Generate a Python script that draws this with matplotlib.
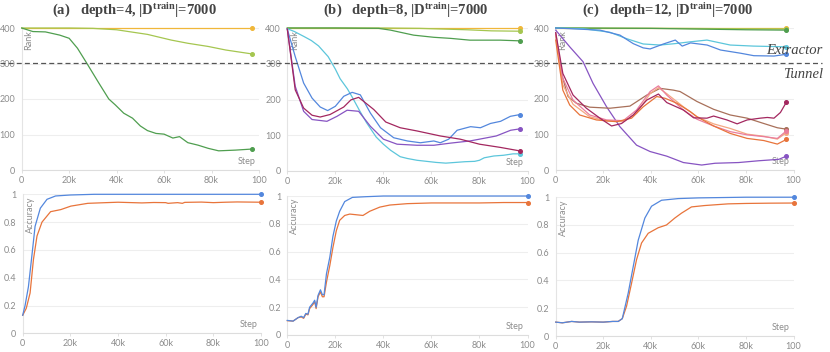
import matplotlib
matplotlib.use("Agg")
import matplotlib.pyplot as plt
from matplotlib.lines import Line2D

# ---------------------------------------------------------------
# Data (x in thousands of steps)
# ---------------------------------------------------------------

# (a) depth=4 -- rank
a_yellow_x = [0, 97]
a_yellow_y = [400, 400]
a_lgreen_x = [0, 10, 20, 30, 40, 45, 53, 63, 70, 78.6, 86, 97]
a_lgreen_y = [400, 400, 400, 399, 395, 390, 382, 366, 357, 348, 338, 327]
a_green_x = [0, 4.7, 10, 16, 20, 23.5, 27.5, 32.5, 36.7, 39.5, 43, 46.7, 50, 53, 56.6, 60,
             63.7, 66.5, 70, 74.3, 78.6, 83, 90, 97]
a_green_y = [400, 390, 389, 380, 371, 343, 300, 245, 200, 183, 160, 146, 124, 111, 103, 101,
             90, 94, 77, 70, 61, 54, 56, 59]

# (a) accuracy
a_acc_blue_x = [0, 1, 2.4, 3.8, 5.2, 7.4, 10.2, 13.8, 20, 30, 50, 70, 100]
a_acc_blue_y = [0.13, 0.2, 0.335, 0.55, 0.77, 0.90, 0.964, 0.988, 0.995, 1.0, 1.0, 1.0, 1.0]
a_acc_orange_x = [0, 1.5, 3.1, 4.5, 6, 8.1, 11.7, 16, 20.2, 27.3, 35, 40, 50, 55, 60, 61, 65,
                  67, 68, 75, 80, 85, 90, 95, 100]
a_acc_orange_y = [0.13, 0.18, 0.29, 0.53, 0.70, 0.80, 0.875, 0.89, 0.915, 0.935, 0.94, 0.943,
                  0.938, 0.941, 0.94, 0.935, 0.94, 0.935, 0.942, 0.944, 0.94, 0.943, 0.945,
                  0.944, 0.943]

# (b) depth=8 -- rank
b_yellow_x = [0, 97]
b_yellow_y = [400, 400]
b_lgreen_x = [0, 40, 55, 65, 75, 85, 97]
b_lgreen_y = [400, 400, 399, 397, 395, 392, 391]
b_green_x = [0, 20, 38, 43, 52.6, 61, 68, 76, 88.7, 97]
b_green_y = [400, 400, 399, 394, 380, 374, 371, 366, 366, 364]
b_cyan_x = [0, 3, 7, 10, 13, 17, 20, 22, 25, 27, 30, 33, 37, 40, 43, 47, 50, 54, 58, 62, 66,
            70, 74, 78, 80, 82, 86, 90, 94, 97]
b_cyan_y = [398, 390, 376, 365, 350, 320, 285, 258, 230, 207, 170, 135, 95, 75, 58, 40, 35,
            30, 27, 24, 22, 24, 26, 27, 30, 37, 42, 44, 48, 48]
b_blue_x = [0, 3.3, 6.8, 10.3, 13.7, 16.8, 20, 23.5, 27, 30.4, 34.6, 38.8, 44.3, 50, 55.4, 61,
            63.7, 67.2, 70.7, 76.3, 80.4, 84.6, 88.8, 92.9, 97]
b_blue_y = [397, 320, 246, 204, 179, 169, 181, 209, 220, 213, 162, 121, 93, 84, 79, 84, 79, 89,
            114, 124, 121, 133, 139, 153, 158]
b_purple_x = [0, 3.3, 6.8, 10.3, 16.5, 20.7, 24.9, 29.7, 34.6, 40, 45.7, 54, 61, 68, 76, 80,
              87, 93, 97]
b_purple_y = [397, 237, 167, 144, 139, 153, 170, 167, 125, 89, 75, 72, 72, 78, 84, 89, 98, 114,
              118]
b_crimson_x = [0, 3.3, 6.8, 10.3, 13.7, 17.8, 23.5, 26.5, 29.7, 36, 41, 47, 54, 63.7, 72, 80,
               88.7, 97]
b_crimson_y = [397, 227, 176, 156, 151, 158, 179, 199, 206, 172, 137, 121, 112, 98, 89, 75, 66,
               56]

# (b) accuracy
b_acc_orange_x = [0, 2.4, 4.5, 5.8, 6.8, 7.7, 8.6, 9.3, 10.7, 11.4, 12, 12.8, 13.8, 14.6, 15.3,
                  16.3, 17.7, 19, 20.4, 21.8, 23.9, 26, 31.5, 34.3, 38.5, 42.7, 50, 60, 70, 80,
                  90, 100]
b_acc_orange_y = [0.103, 0.10, 0.125, 0.13, 0.12, 0.15, 0.145, 0.19, 0.22, 0.24, 0.19, 0.275,
                  0.31, 0.275, 0.275, 0.38, 0.50, 0.63, 0.75, 0.825, 0.86, 0.87, 0.86, 0.89,
                  0.92, 0.935, 0.945, 0.95, 0.95, 0.95, 0.953, 0.953]
b_acc_blue_x = [0, 2.4, 4.5, 5.8, 6.8, 7.7, 8.6, 9.3, 10.7, 11.4, 12, 12.8, 13.8, 14.6, 15.3,
                16.3, 17.7, 19, 20.4, 21.8, 23.9, 27.1, 32.7, 40, 60, 80, 100]
b_acc_blue_y = [0.105, 0.10, 0.125, 0.135, 0.125, 0.155, 0.15, 0.2, 0.23, 0.25, 0.2, 0.285,
                0.325, 0.29, 0.29, 0.44, 0.56, 0.71, 0.82, 0.89, 0.96, 0.99, 0.995, 1.0, 1.0,
                1.0, 1.0]

# (c) depth=12 -- rank
c_yellow_x = [0, 97]
c_yellow_y = [400, 400]
c_lgreen_x = [0, 50, 97]
c_lgreen_y = [400, 399, 397]
c_green_x = [0, 40, 60, 80, 97]
c_green_y = [400, 399, 397, 395, 394]
c_cyan_x = [0, 11.5, 22.8, 29.8, 36.8, 43.9, 50.2, 56.5, 63.6, 73.4, 83.3, 97]
c_cyan_y = [400, 398, 388, 370, 355, 352, 356, 361, 366, 352, 349, 347]
c_blue_x = [0, 18.6, 27, 32.6, 36.8, 39.7, 45.3, 50.3, 53.2, 56.7, 63.7, 69.3, 77.7, 83.3,
            91.8, 97]
c_blue_y = [400, 394, 380, 356, 344, 341, 355, 366, 349, 358, 352, 338, 329, 322, 321, 326]
c_purple_x = [0, 5.9, 11.5, 15.7, 21.4, 27, 34, 39.7, 46.7, 53.7, 61.4, 67, 76.9, 85.3, 93.8, 97]
c_purple_y = [394, 347, 305, 244, 178, 122, 70, 52, 39, 21, 14, 19, 21, 26, 30, 39]
c_crimson_x = [0, 3, 7.3, 12.9, 18.6, 23.5, 27.7, 32.6, 38.3, 43.2, 46.7, 53.7, 58, 63.6, 66.4,
               72, 76.3, 80.5, 86, 89, 91.8, 94.5, 97]
c_crimson_y = [387, 272, 211, 174, 146, 124, 131, 155, 197, 214, 190, 169, 147, 146, 152, 141,
               130, 141, 146, 148, 146, 162, 191]
c_brown_x = [0, 2.4, 5.2, 8.7, 14.3, 22.8, 31.2, 38.3, 43.9, 49.5, 52.3, 59.4, 66.4, 73.4, 80.5,
             87.5, 93.2, 97]
c_brown_y = [380, 272, 207, 188, 177, 174, 180, 211, 230, 225, 221, 193, 171, 155, 146, 131,
             119, 115]
c_pink_x = [0, 3, 7.3, 14.3, 21.4, 28.4, 34, 39.7, 43.2, 46.7, 53.7, 59.4, 66.4, 73.4, 80.5,
            87.5, 93.2, 97]
c_pink_y = [385, 258, 197, 155, 141, 139, 169, 221, 237, 211, 169, 143, 124, 108, 99, 94, 89, 110]
c_salmon_x = [0, 3, 7.3, 14.3, 21.4, 28.4, 34, 39.7, 43.2, 46.7, 53.7, 59.4, 66.4, 73.4, 80.5,
              87.5, 93.2, 97]
c_salmon_y = [382, 240, 185, 150, 138, 136, 160, 215, 232, 215, 178, 150, 130, 117, 101, 95, 87,
              105]
c_orange_x = [0, 3, 5.9, 10.1, 17.1, 25.6, 31.9, 36.8, 42.5, 46, 51, 56.7, 59.4, 66.4, 73.4,
              80.5, 87.5, 93.2, 97]
c_orange_y = [366, 225, 183, 155, 141, 136, 146, 178, 207, 202, 188, 164, 150, 124, 103, 89, 83,
              73, 86]

# (c) accuracy
c_acc_orange_x = [0, 2.8, 6.7, 10, 15, 20, 24, 26.3, 28, 29.8, 31.9, 34, 36.1, 38.9, 43.1, 46.6,
                  50.1, 52.9, 57.1, 62.7, 72.5, 80, 90, 100]
c_acc_orange_y = [0.10, 0.095, 0.105, 0.10, 0.102, 0.10, 0.105, 0.105, 0.125, 0.215, 0.38, 0.55,
                  0.67, 0.74, 0.78, 0.80, 0.85, 0.885, 0.93, 0.94, 0.952, 0.955, 0.957, 0.958]
c_acc_blue_x = [0, 2.8, 6.7, 10, 15, 20, 24, 26.3, 28, 30.5, 32.6, 34.7, 37.5, 40.3, 44.5, 51.5,
                60, 80, 100]
c_acc_blue_y = [0.10, 0.095, 0.105, 0.10, 0.102, 0.10, 0.105, 0.105, 0.125, 0.31, 0.50, 0.69,
                0.85, 0.935, 0.978, 0.99, 0.995, 1.0, 1.0]

# Tick labels
x_ticks = [0, 20, 40, 60, 80, 100]
x_tick_labels = ['0', '20k', '40k', '60k', '80k', '100']
rank_ticks = [0, 100, 200, 300, 400]
acc_ticks = [0, 0.2, 0.4, 0.6, 0.8, 1]
acc_tick_labels = ['0', '0.2', '0.4', '0.6', '0.8', '1']

titles = ['(a)   depth=4, $|\\mathrm{D}^{\\mathrm{train}}|$=7000',
          '(b)   depth=8, $|\\mathrm{D}^{\\mathrm{train}}|$=7000',
          '(c)   depth=12, $|\\mathrm{D}^{\\mathrm{train}}|$=7000']

# Colours
YELLOW = '#f0b73a'
LGREEN = '#a5c650'
GREEN = '#4f9e4f'
CYAN = '#5cc6db'
BLUE = '#5387dd'
PURPLE = '#8754c2'
CRIMSON = '#a3275f'
BROWN = '#a8705a'
PINK = '#ea7d9c'
SALMON = '#f4a882'
ORANGE = '#e8743b'

plt.rcParams['mathtext.fontset'] = 'custom'
plt.rcParams['mathtext.rm'] = 'Liberation Serif:bold'
plt.rcParams['mathtext.it'] = 'Liberation Serif:bold'
plt.rcParams['mathtext.bf'] = 'Liberation Serif:bold'

fig = plt.figure(figsize=(8.3, 3.52), dpi=100)
W, H = 830.0, 352.0


def make_axes(left, right, top, bottom):
    # pixel box -> figure fraction
    return fig.add_axes([left / W, 1 - bottom / H, (right - left) / W, (bottom - top) / H])


def style(ax, yticks, ylabels, ylabel):
    ax.set_xlim(0, 100)
    ax.set_xticks(x_ticks)
    ax.set_xticklabels(x_tick_labels)
    ax.set_yticks(yticks)
    ax.set_yticklabels(ylabels)
    ax.set_ylim(yticks[0], yticks[-1])
    ax.grid(axis='y', color='#eeeeee', linewidth=0.8)
    ax.set_axisbelow(True)
    for s in ['top', 'right']:
        ax.spines[s].set_visible(False)
    ax.spines['left'].set_color('#e4e4e4')
    ax.spines['bottom'].set_color('#dddddd')
    ax.spines['left'].set_linewidth(0.8)
    ax.spines['bottom'].set_linewidth(0.8)
    ax.tick_params(axis='y', length=0, pad=4.5, labelsize=6.5, labelcolor='#8c8c8c')
    ax.tick_params(axis='x', length=2.5, width=0.6, color='#dddddd', pad=1.8,
                   labelsize=6.5, labelcolor='#8c8c8c')
    for lab in ax.get_xticklabels() + ax.get_yticklabels():
        lab.set_family('Lato')
    ax.text(0.012, 0.985, ylabel, transform=ax.transAxes, rotation=90, ha='left', va='top',
            fontsize=6.5, color='#8c8c8c', family='Lato')
    ax.text(0.985, 0.03, 'Step', transform=ax.transAxes, ha='right', va='bottom',
            fontsize=6.5, color='#8c8c8c', family='Lato')


def line(ax, x, y, c):
    ax.plot(x, y, color=c, linewidth=0.9, clip_on=False, zorder=3)
    ax.plot(x[-1], y[-1], 'o', color=c, markersize=2.6, clip_on=False, zorder=4)


# ---------------------------------------------------------------
# Rank plots (top row)
# ---------------------------------------------------------------
ax1 = make_axes(21.7, 259, 28, 170)
style(ax1, rank_ticks, [str(t) for t in rank_ticks], 'Rank')
line(ax1, a_yellow_x, a_yellow_y, YELLOW)
line(ax1, a_lgreen_x, a_lgreen_y, LGREEN)
line(ax1, a_green_x, a_green_y, GREEN)

ax2 = make_axes(287.3, 527.5, 28, 171)
style(ax2, rank_ticks, [str(t) for t in rank_ticks], 'Rank')
line(ax2, b_yellow_x, b_yellow_y, YELLOW)
line(ax2, b_lgreen_x, b_lgreen_y, LGREEN)
line(ax2, b_green_x, b_green_y, GREEN)
line(ax2, b_cyan_x, b_cyan_y, CYAN)
line(ax2, b_blue_x, b_blue_y, BLUE)
line(ax2, b_purple_x, b_purple_y, PURPLE)
line(ax2, b_crimson_x, b_crimson_y, CRIMSON)

ax3 = make_axes(555.7, 793.5, 28, 170)
style(ax3, rank_ticks, [str(t) for t in rank_ticks], 'Rank')
line(ax3, c_yellow_x, c_yellow_y, YELLOW)
line(ax3, c_lgreen_x, c_lgreen_y, LGREEN)
line(ax3, c_green_x, c_green_y, GREEN)
line(ax3, c_cyan_x, c_cyan_y, CYAN)
line(ax3, c_blue_x, c_blue_y, BLUE)
line(ax3, c_purple_x, c_purple_y, PURPLE)
line(ax3, c_brown_x, c_brown_y, BROWN)
line(ax3, c_salmon_x, c_salmon_y, SALMON)
line(ax3, c_pink_x, c_pink_y, PINK)
line(ax3, c_orange_x, c_orange_y, ORANGE)
line(ax3, c_crimson_x, c_crimson_y, CRIMSON)

# ---------------------------------------------------------------
# Accuracy plots (bottom row)
# ---------------------------------------------------------------
ax4 = make_axes(22.7, 261, 194.3, 333.3)
style(ax4, acc_ticks, acc_tick_labels, 'Accuracy')
line(ax4, a_acc_orange_x, a_acc_orange_y, ORANGE)
line(ax4, a_acc_blue_x, a_acc_blue_y, BLUE)

ax5 = make_axes(287.3, 527.5, 196, 335)
style(ax5, acc_ticks, acc_tick_labels, 'Accuracy')
line(ax5, b_acc_orange_x, b_acc_orange_y, ORANGE)
line(ax5, b_acc_blue_x, b_acc_blue_y, BLUE)

ax6 = make_axes(555.7, 793.5, 197.2, 336)
style(ax6, acc_ticks, acc_tick_labels, 'Accuracy')
line(ax6, c_acc_orange_x, c_acc_orange_y, ORANGE)
line(ax6, c_acc_blue_x, c_acc_blue_y, BLUE)

# Panel titles
for cx, t in zip([134, 406, 668], titles):
    fig.text(cx / W, 1 - 11 / H, t, ha='center', va='center', fontsize=10.5,
             family='Liberation Serif', fontweight='bold', color='#444444')

# Extractor / Tunnel boundary across the whole figure
fig.add_artist(Line2D([0, 822 / W], [1 - 63 / H, 1 - 63 / H], transform=fig.transFigure,
                      color='#555555', linestyle=(0, (4, 2.5)), linewidth=0.9, zorder=10))
fig.text(823 / W, 1 - 51 / H, 'Extractor', ha='right', va='center', fontsize=10.5,
         family='Liberation Serif', style='italic', color='#444444')
fig.text(823 / W, 1 - 75 / H, 'Tunnel', ha='right', va='center', fontsize=10.5,
         family='Liberation Serif', style='italic', color='#444444')

plt.savefig('out.png', dpi=100)
